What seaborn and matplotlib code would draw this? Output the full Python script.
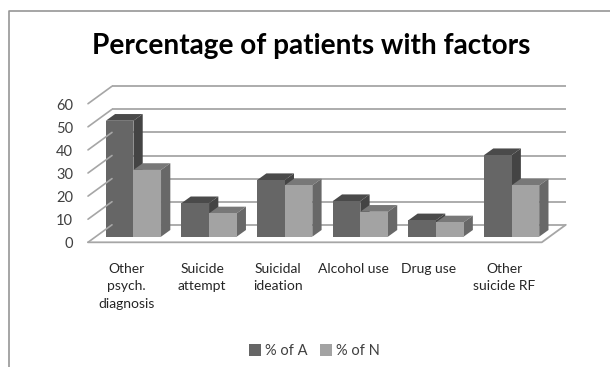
import matplotlib
matplotlib.use("Agg")
import matplotlib.pyplot as plt
from matplotlib.patches import Polygon
from matplotlib.transforms import Affine2D
import pandas as pd
import seaborn as sns

categories = ["Other\npsych.\ndiagnosis", "Suicide\nattempt", "Suicidal\nideation",
              "Alcohol use", "Drug use", "Other\nsuicide RF"]
pct_a = [50.2, 14.5, 24.5, 15.4, 7.1, 35.3]
pct_n = [28.9, 10.1, 22.2, 10.8, 6.2, 22.2]
series_names = ["% of A", "% of N"]
y_ticks = [0, 10, 20, 30, 40, 50, 60]

FONT = "Lato"
W, H = 610, 367
FRONT = (-7.6, -5.6)   # floor front edge relative to the bar plane, px
BACK = (16.4, 11.9)    # back wall relative to the bar plane, px
BAR_DEPTH = (9.3, 6.7)

sns.set_theme(style="white", rc={"font.family": FONT})
plt.rcParams["font.family"] = [FONT, "DejaVu Sans"]

fig = plt.figure(figsize=(W / 100, H / 100), dpi=100)
# Axes occupy the plane of the bar fronts
left, right, bottom_px, top_px = 95.6, 549.4, 236.7, 236.7 - 2.31 * 60
ax = fig.add_axes([left / W, 1 - bottom_px / H, (right - left) / W, (bottom_px - top_px) / H])

df = pd.DataFrame({
    "factor": categories * 2,
    "pct": pct_a + pct_n,
    "series": [series_names[0]] * 6 + [series_names[1]] * 6,
})
sns.barplot(data=df, x="factor", y="pct", hue="series", hue_order=series_names,
            palette=["#666666", "#a3a3a3"], width=0.73, gap=0, saturation=1,
            errorbar=None, ax=ax, zorder=4, linewidth=0)

ax.set_xlim(-0.5, 5.5)
ax.set_ylim(0, 60)
ax.set_xlabel("")
ax.set_ylabel("")
ax.patch.set_visible(False)
sns.despine(ax=ax, left=True, bottom=True)


def shifted(dx, dy):
    return ax.transData + Affine2D().translate(dx, dy)


# Back wall gridlines and the diagonal side-wall lines
GRID = "#a6a6a6"
for v in y_ticks:
    ax.plot([-0.5, 5.5], [v, v], transform=shifted(*BACK), color=GRID, lw=1.3,
            clip_on=False, zorder=1, solid_capstyle="butt")
    xl, y0 = ax.transData.transform((-0.5, v))
    fig.add_artist(plt.Line2D([xl + FRONT[0], xl + BACK[0]], [y0 + FRONT[1], y0 + BACK[1]],
                              transform=None, color=GRID, lw=1.2, zorder=1))

# Floor outline: front edge and right-hand diagonal
x0, y0 = ax.transData.transform((-0.5, 0))
x1, _ = ax.transData.transform((5.5, 0))
fig.add_artist(plt.Line2D([x0 + FRONT[0], x1 + FRONT[0], x1 + BACK[0]],
                          [y0 + FRONT[1], y0 + FRONT[1], y0 + BACK[1]],
                          transform=None, color=GRID, lw=1.3, zorder=1))

# Top and side faces extruded from each seaborn bar
shades = {"#666666": ("#4a4a4a", "#444444"), "#a3a3a3": ("#787878", "#686868")}
bars = sorted(ax.patches, key=lambda b: b.get_x())
for bar in bars:
    x, w, h = bar.get_x(), bar.get_width(), bar.get_height()
    key = matplotlib.colors.to_hex(bar.get_facecolor())
    top_col, side_col = shades[key]
    (xa, ya), (xb, yb) = ax.transData.transform([(x, 0), (x + w, h)])
    dx, dy = BAR_DEPTH
    z = 3 + x / 10
    ax.add_patch(Polygon([(xa, yb), (xb, yb), (xb + dx, yb + dy), (xa + dx, yb + dy)],
                         closed=True, transform=None, facecolor=top_col, edgecolor="none",
                         clip_on=False, zorder=z))
    ax.add_patch(Polygon([(xb, ya), (xb, yb), (xb + dx, yb + dy), (xb + dx, ya + dy)],
                         closed=True, transform=None, facecolor=side_col, edgecolor="none",
                         clip_on=False, zorder=z))
    bar.set_zorder(z + 0.05)

# Value axis labels sit on the floor's front plane
ax.set_yticks(y_ticks)
ax.tick_params(axis="y", length=0, pad=16.3, labelsize=10.5, labelcolor="#404040")
offset = Affine2D().translate(0, FRONT[1] - 0.5)
for lab in ax.get_yticklabels():
    lab.set_transform(lab.get_transform() + offset)

ax.tick_params(axis="x", length=0, pad=18.6, labelsize=10, labelcolor="#262626")
for lab in ax.get_xticklabels():
    lab.set_linespacing(1.58)
    lab.set_transform(lab.get_transform() + Affine2D().translate(-7, 0))

fig.text(311.5 / W, 1 - 46 / H, "Percentage of patients with factors", ha="center", va="center",
         fontsize=20.2, fontweight="bold", color="black")

sns.move_legend(ax, "center", bbox_to_anchor=(314.5 / W, 1 - 351 / H),
                bbox_transform=fig.transFigure, ncols=2, title=None, frameon=False,
                fontsize=10.5, handlelength=0.8, handleheight=0.8, handletextpad=0.3,
                columnspacing=0.85, labelcolor="#404040")

# Chart-area border along the top and left edges
fig.add_artist(plt.Line2D([8.5, 8.5, W], [0, H - 10.5, H - 10.5], transform=None,
                          color="#969696", lw=1.2))

fig.savefig("out.png", dpi=100, facecolor="white")
